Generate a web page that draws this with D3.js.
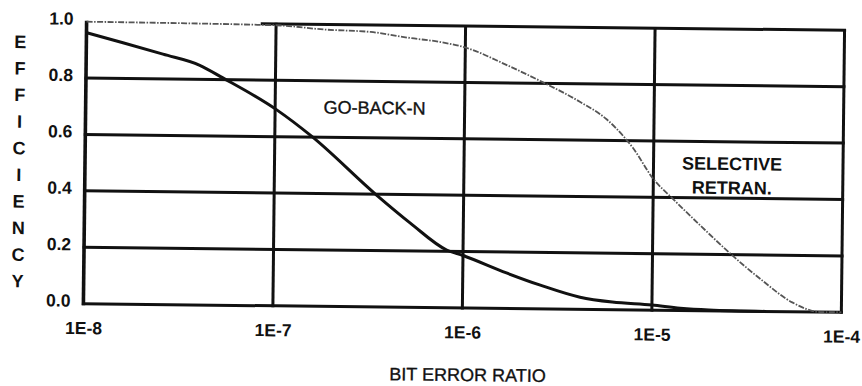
<!DOCTYPE html>
<html>
<head>
<meta charset="utf-8">
<script src="https://cdn.jsdelivr.net/npm/d3@7/dist/d3.min.js"></script>
<style>
  html, body { margin: 0; padding: 0; background: #fff; }
  svg { display: block; }
  text { font-family: "Liberation Sans", Arial, Helvetica, sans-serif; fill: #111; }
</style>
</head>
<body>
<svg id="chart" width="862" height="386"></svg>
<script>
// Efficiency of ARQ schemes versus bit error ratio
const xTicks = [1e-8, 1e-7, 1e-6, 1e-5, 1e-4];
const xTickLabels = ["1E-8", "1E-7", "1E-6", "1E-5", "1E-4"];
const yTicks = [0.0, 0.2, 0.4, 0.6, 0.8, 1.0];
const yTitle = "EFFICIENCY";
const xTitle = "BIT ERROR RATIO";

// Go-back-N
const gbnBer = [1.0e-8, 1.56e-8, 2.54e-8, 3.98e-8, 5.25e-8, 1.02e-7, 1.55e-7,
                3.47e-7, 5.25e-7, 8.2e-7, 1.0e-6, 1.7e-6, 2.57e-6, 4.17e-6, 6.17e-6,
                1.0e-5, 1.41e-5, 2.0e-5, 4.0e-5];
const gbnEff = [0.961, 0.927, 0.888, 0.850, 0.807, 0.695, 0.605,
                0.397, 0.299, 0.205, 0.186, 0.126, 0.084, 0.043, 0.027,
                0.018, 0.008, 0.003, 0.0];

// Selective retransmission
const srBer = [1.0e-8, 1.0e-7, 1.78e-7, 3.16e-7, 5.13e-7, 7.41e-7, 1.02e-6, 1.66e-6,
               2.57e-6, 4.07e-6, 5.62e-6, 6.92e-6, 7.76e-6, 1.0e-5, 1.26e-5, 1.82e-5,
               2.63e-5, 3.8e-5, 5.5e-5, 7.76e-5, 1.0e-4];
const srEff = [1.0, 0.995, 0.982, 0.975, 0.955, 0.942, 0.922, 0.863,
               0.804, 0.735, 0.675, 0.615, 0.575, 0.465, 0.398, 0.296,
               0.198, 0.110, 0.033, 0.0, 0.0];

// the heavy top rule only starts a little short of 1E-7
const topRuleFrom = 8.3e-8;

const svg = d3.select("#chart");
const g = svg.append("g").attr("transform", "rotate(0.65, 465, 165)");

const x = d3.scaleLog().domain([1e-8, 1e-4]).range([85, 843]);
const y = d3.scaleLinear().domain([0, 1]).range([308, 26]);

// horizontal grid
g.append("g").selectAll("line").data(yTicks).join("line")
  .attr("x1", d => d === 1.0 ? x(topRuleFrom) : x(1e-8) - 1.5)
  .attr("x2", x(1e-4) + 1.5)
  .attr("y1", d => y(d)).attr("y2", d => y(d))
  .attr("stroke", "#111").attr("stroke-width", 3);

// vertical grid
g.append("g").selectAll("line").data(xTicks).join("line")
  .attr("x1", d => x(d)).attr("x2", d => x(d))
  .attr("y1", y(1) - 1).attr("y2", y(0) + 1.5)
  .attr("stroke", "#111").attr("stroke-width", (d, i) => i === 0 ? 3.6 : 3);

// y axis labels
const yAxis = d3.axisLeft(y).tickValues(yTicks).tickSize(0).tickPadding(13)
  .tickFormat(d3.format(".1f"));
const ya = g.append("g").attr("transform", `translate(${x(1e-8)},0)`).call(yAxis);
ya.select(".domain").remove();
ya.selectAll("text").attr("y", -3).style("font-size", "17.5px").style("font-weight", "bold")
  .style("font-family", '"Liberation Sans", Arial, sans-serif').attr("fill", "#111");

// x axis labels
const xAxis = d3.axisBottom(x).tickValues(xTicks).tickSize(0).tickPadding(18)
  .tickFormat((d, i) => xTickLabels[i]);
const xa = g.append("g").attr("transform", `translate(0,${y(0)})`).call(xAxis);
xa.select(".domain").remove();
xa.selectAll("text").style("font-size", "17.5px").style("font-weight", "bold")
  .style("font-family", '"Liberation Sans", Arial, sans-serif').attr("fill", "#111");

// curves
const line = d3.line().x(d => x(d[0])).y(d => y(d[1])).curve(d3.curveMonotoneX);

g.append("path")
  .datum(srBer.map((b, i) => [b, srEff[i]]))
  .attr("d", line).attr("fill", "none")
  .attr("stroke", "#555").attr("stroke-width", 1.8)
  .attr("stroke-dasharray", "6 1.5 1.5 1.5");

g.append("path")
  .datum(gbnBer.map((b, i) => [b, gbnEff[i]]))
  .attr("d", line).attr("fill", "none")
  .attr("stroke", "#111").attr("stroke-width", 3)
  .attr("stroke-linejoin", "round");

// y title, stacked letters
g.append("g").selectAll("text").data(yTitle.split("")).join("text")
  .attr("x", 19).attr("y", (d, i) => 47 + i * 26.6)
  .attr("text-anchor", "middle").attr("dominant-baseline", "central")
  .style("font-size", "18px").style("font-weight", "bold")
  .text(d => d);

// x title
g.append("text").attr("x", 470).attr("y", 375)
  .attr("text-anchor", "middle").attr("dominant-baseline", "central")
  .style("font-size", "18px").attr("stroke", "#111").attr("stroke-width", 0.35)
  .text(xTitle);

// series labels
g.append("text").attr("x", 374).attr("y", 109)
  .attr("text-anchor", "middle").attr("dominant-baseline", "central")
  .style("font-size", "18px").attr("stroke", "#111").attr("stroke-width", 0.35)
  .text("GO-BACK-N");
g.append("text").attr("x", 732).attr("y", 161)
  .attr("text-anchor", "middle").attr("dominant-baseline", "central")
  .style("font-size", "18px").style("font-weight", "bold")
  .text("SELECTIVE");
g.append("text").attr("x", 732).attr("y", 185)
  .attr("text-anchor", "middle").attr("dominant-baseline", "central")
  .style("font-size", "18px").style("font-weight", "bold")
  .text("RETRAN.");
</script>
</body>
</html>
